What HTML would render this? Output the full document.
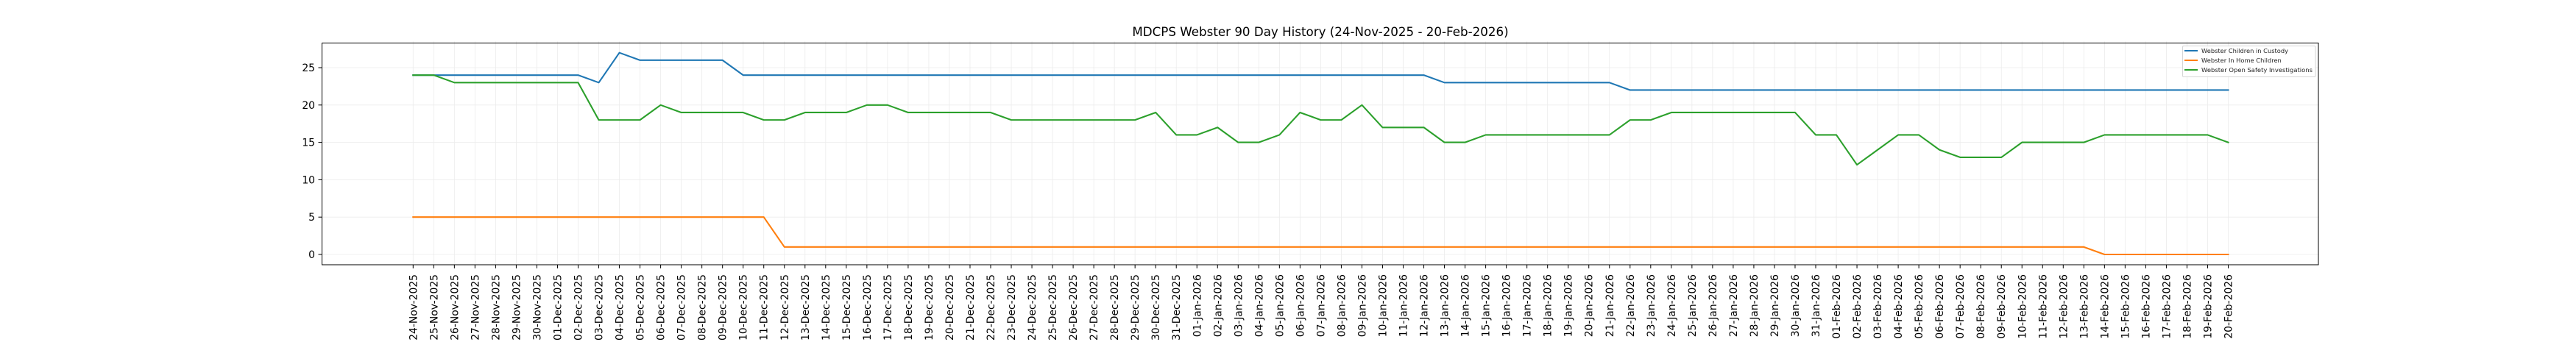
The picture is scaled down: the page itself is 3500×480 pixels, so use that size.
<!DOCTYPE html>
<html><head><meta charset="utf-8"><style>
html,body{margin:0;padding:0;background:#fff;}
svg{display:block;font-family:"DejaVu Sans","Liberation Sans",sans-serif;}
</style></head><body>
<svg width="3500" height="480" viewBox="0 0 3500 480" xmlns="http://www.w3.org/2000/svg">
<rect width="3500" height="480" fill="#fff"/>
<text x="1794" y="49" font-size="16.7" text-anchor="middle" fill="#000">MDCPS Webster 90 Day History (24-Nov-2025 - 20-Feb-2026)</text>
<!-- grid -->
<g transform="translate(561.3,346) scale(28.025,-10.16)" stroke="#ececec" stroke-width="0.8" fill="none">
<path vector-effect="non-scaling-stroke" d="M-4.4,0H92.4M-4.4,5H92.4M-4.4,10H92.4M-4.4,15H92.4M-4.4,20H92.4M-4.4,25H92.4"/>
<path vector-effect="non-scaling-stroke" d="M0,-1.38V28.5M1,-1.38V28.5M2,-1.38V28.5M3,-1.38V28.5M4,-1.38V28.5M5,-1.38V28.5M6,-1.38V28.5M7,-1.38V28.5M8,-1.38V28.5M9,-1.38V28.5M10,-1.38V28.5M11,-1.38V28.5M12,-1.38V28.5M13,-1.38V28.5M14,-1.38V28.5M15,-1.38V28.5M16,-1.38V28.5M17,-1.38V28.5M18,-1.38V28.5M19,-1.38V28.5M20,-1.38V28.5M21,-1.38V28.5M22,-1.38V28.5M23,-1.38V28.5M24,-1.38V28.5M25,-1.38V28.5M26,-1.38V28.5M27,-1.38V28.5M28,-1.38V28.5M29,-1.38V28.5M30,-1.38V28.5M31,-1.38V28.5M32,-1.38V28.5M33,-1.38V28.5M34,-1.38V28.5M35,-1.38V28.5M36,-1.38V28.5M37,-1.38V28.5M38,-1.38V28.5M39,-1.38V28.5M40,-1.38V28.5M41,-1.38V28.5M42,-1.38V28.5M43,-1.38V28.5M44,-1.38V28.5M45,-1.38V28.5M46,-1.38V28.5M47,-1.38V28.5M48,-1.38V28.5M49,-1.38V28.5M50,-1.38V28.5M51,-1.38V28.5M52,-1.38V28.5M53,-1.38V28.5M54,-1.38V28.5M55,-1.38V28.5M56,-1.38V28.5M57,-1.38V28.5M58,-1.38V28.5M59,-1.38V28.5M60,-1.38V28.5M61,-1.38V28.5M62,-1.38V28.5M63,-1.38V28.5M64,-1.38V28.5M65,-1.38V28.5M66,-1.38V28.5M67,-1.38V28.5M68,-1.38V28.5M69,-1.38V28.5M70,-1.38V28.5M71,-1.38V28.5M72,-1.38V28.5M73,-1.38V28.5M74,-1.38V28.5M75,-1.38V28.5M76,-1.38V28.5M77,-1.38V28.5M78,-1.38V28.5M79,-1.38V28.5M80,-1.38V28.5M81,-1.38V28.5M82,-1.38V28.5M83,-1.38V28.5M84,-1.38V28.5M85,-1.38V28.5M86,-1.38V28.5M87,-1.38V28.5M88,-1.38V28.5"/>
</g>
<!-- ticks -->
<g transform="translate(561.3,346) scale(28.025,-10.16)" stroke="#000" stroke-width="1" fill="none">
<path vector-effect="non-scaling-stroke" d="M0,-1.38v-0.48M1,-1.38v-0.48M2,-1.38v-0.48M3,-1.38v-0.48M4,-1.38v-0.48M5,-1.38v-0.48M6,-1.38v-0.48M7,-1.38v-0.48M8,-1.38v-0.48M9,-1.38v-0.48M10,-1.38v-0.48M11,-1.38v-0.48M12,-1.38v-0.48M13,-1.38v-0.48M14,-1.38v-0.48M15,-1.38v-0.48M16,-1.38v-0.48M17,-1.38v-0.48M18,-1.38v-0.48M19,-1.38v-0.48M20,-1.38v-0.48M21,-1.38v-0.48M22,-1.38v-0.48M23,-1.38v-0.48M24,-1.38v-0.48M25,-1.38v-0.48M26,-1.38v-0.48M27,-1.38v-0.48M28,-1.38v-0.48M29,-1.38v-0.48M30,-1.38v-0.48M31,-1.38v-0.48M32,-1.38v-0.48M33,-1.38v-0.48M34,-1.38v-0.48M35,-1.38v-0.48M36,-1.38v-0.48M37,-1.38v-0.48M38,-1.38v-0.48M39,-1.38v-0.48M40,-1.38v-0.48M41,-1.38v-0.48M42,-1.38v-0.48M43,-1.38v-0.48M44,-1.38v-0.48M45,-1.38v-0.48M46,-1.38v-0.48M47,-1.38v-0.48M48,-1.38v-0.48M49,-1.38v-0.48M50,-1.38v-0.48M51,-1.38v-0.48M52,-1.38v-0.48M53,-1.38v-0.48M54,-1.38v-0.48M55,-1.38v-0.48M56,-1.38v-0.48M57,-1.38v-0.48M58,-1.38v-0.48M59,-1.38v-0.48M60,-1.38v-0.48M61,-1.38v-0.48M62,-1.38v-0.48M63,-1.38v-0.48M64,-1.38v-0.48M65,-1.38v-0.48M66,-1.38v-0.48M67,-1.38v-0.48M68,-1.38v-0.48M69,-1.38v-0.48M70,-1.38v-0.48M71,-1.38v-0.48M72,-1.38v-0.48M73,-1.38v-0.48M74,-1.38v-0.48M75,-1.38v-0.48M76,-1.38v-0.48M77,-1.38v-0.48M78,-1.38v-0.48M79,-1.38v-0.48M80,-1.38v-0.48M81,-1.38v-0.48M82,-1.38v-0.48M83,-1.38v-0.48M84,-1.38v-0.48M85,-1.38v-0.48M86,-1.38v-0.48M87,-1.38v-0.48M88,-1.38v-0.48"/>
</g>
<g stroke="#000" stroke-width="1">
<line x1="432.5" y1="346" x2="437.5" y2="346"/>
<line x1="432.5" y1="295.2" x2="437.5" y2="295.2"/>
<line x1="432.5" y1="244.4" x2="437.5" y2="244.4"/>
<line x1="432.5" y1="193.6" x2="437.5" y2="193.6"/>
<line x1="432.5" y1="142.8" x2="437.5" y2="142.8"/>
<line x1="432.5" y1="92" x2="437.5" y2="92"/>
</g>
<g font-size="13.9" text-anchor="end" fill="#000">
<text x="428" y="351">0</text>
<text x="428" y="300.2">5</text>
<text x="428" y="249.4">10</text>
<text x="428" y="198.6">15</text>
<text x="428" y="147.8">20</text>
<text x="428" y="97">25</text>
</g>
<!-- series -->
<g transform="translate(561.3,346) scale(28.025,-10.16)" fill="none" stroke-width="2.1" stroke-linejoin="round" stroke-linecap="square">
<polyline vector-effect="non-scaling-stroke" stroke="#1f77b4" points="0,24 8,24 9,23 10,27 11,26 15,26 16,24 49,24 50,23 58,23 59,22 88,22"/>
<polyline vector-effect="non-scaling-stroke" stroke="#ff7f0e" points="0,5 17,5 18,1 81,1 82,0 88,0"/>
<polyline vector-effect="non-scaling-stroke" stroke="#2ca02c" points="0,24 1,24 2,23 8,23 9,18 11,18 12,20 13,19 16,19 17,18 18,18 19,19 21,19 22,20 23,20 24,19 28,19 29,18 35,18 36,19 37,16 38,16 39,17 40,15 41,15 42,16 43,19 44,18 45,18 46,20 47,17 49,17 50,15 51,15 52,16 58,16 59,18 60,18 61,19 67,19 68,16 69,16 70,12 71,14 72,16 73,16 74,14 75,13 77,13 78,15 81,15 82,16 87,16 88,15"/>
</g>
<!-- axes frame -->
<rect x="437.5" y="58.5" width="2712.5" height="301.5" fill="none" stroke="#000" stroke-width="1"/>
<!-- legend -->
<rect x="2965.5" y="62.5" width="180.5" height="42" fill="#fff" fill-opacity="0.8" stroke="#d6d6d6" stroke-width="1" rx="1.5"/>
<g stroke-width="2.1">
<line x1="2968" y1="69" x2="2986" y2="69" stroke="#1f77b4"/>
<line x1="2968" y1="82" x2="2986" y2="82" stroke="#ff7f0e"/>
<line x1="2968" y1="95" x2="2986" y2="95" stroke="#2ca02c"/>
</g>
<g font-size="8.3" fill="#222">
<text x="2991" y="72">Webster Children in Custody</text>
<text x="2991" y="85">Webster In Home Children</text>
<text x="2991" y="98" textLength="151" lengthAdjust="spacingAndGlyphs">Webster Open Safety Investigations</text>
</g>
<!-- x labels -->
<g transform="translate(0,373)" font-size="13.9" fill="#000">
<g transform="rotate(-90)" text-anchor="end">
<text x="0" y="561.3" dy="0.36em">24-Nov-2025</text>
<text x="0" y="589.3" dy="0.36em">25-Nov-2025</text>
<text x="0" y="617.4" dy="0.36em">26-Nov-2025</text>
<text x="0" y="645.4" dy="0.36em">27-Nov-2025</text>
<text x="0" y="673.4" dy="0.36em">28-Nov-2025</text>
<text x="0" y="701.4" dy="0.36em">29-Nov-2025</text>
<text x="0" y="729.5" dy="0.36em">30-Nov-2025</text>
<text x="0" y="757.5" dy="0.36em">01-Dec-2025</text>
<text x="0" y="785.5" dy="0.36em">02-Dec-2025</text>
<text x="0" y="813.5" dy="0.36em">03-Dec-2025</text>
<text x="0" y="841.6" dy="0.36em">04-Dec-2025</text>
<text x="0" y="869.6" dy="0.36em">05-Dec-2025</text>
<text x="0" y="897.6" dy="0.36em">06-Dec-2025</text>
<text x="0" y="925.6" dy="0.36em">07-Dec-2025</text>
<text x="0" y="953.7" dy="0.36em">08-Dec-2025</text>
<text x="0" y="981.7" dy="0.36em">09-Dec-2025</text>
<text x="0" y="1009.7" dy="0.36em">10-Dec-2025</text>
<text x="0" y="1037.7" dy="0.36em">11-Dec-2025</text>
<text x="0" y="1065.8" dy="0.36em">12-Dec-2025</text>
<text x="0" y="1093.8" dy="0.36em">13-Dec-2025</text>
<text x="0" y="1121.8" dy="0.36em">14-Dec-2025</text>
<text x="0" y="1149.8" dy="0.36em">15-Dec-2025</text>
<text x="0" y="1177.9" dy="0.36em">16-Dec-2025</text>
<text x="0" y="1205.9" dy="0.36em">17-Dec-2025</text>
<text x="0" y="1233.9" dy="0.36em">18-Dec-2025</text>
<text x="0" y="1261.9" dy="0.36em">19-Dec-2025</text>
<text x="0" y="1290.0" dy="0.36em">20-Dec-2025</text>
<text x="0" y="1318.0" dy="0.36em">21-Dec-2025</text>
<text x="0" y="1346.0" dy="0.36em">22-Dec-2025</text>
<text x="0" y="1374.0" dy="0.36em">23-Dec-2025</text>
<text x="0" y="1402.1" dy="0.36em">24-Dec-2025</text>
<text x="0" y="1430.1" dy="0.36em">25-Dec-2025</text>
<text x="0" y="1458.1" dy="0.36em">26-Dec-2025</text>
<text x="0" y="1486.1" dy="0.36em">27-Dec-2025</text>
<text x="0" y="1514.2" dy="0.36em">28-Dec-2025</text>
<text x="0" y="1542.2" dy="0.36em">29-Dec-2025</text>
<text x="0" y="1570.2" dy="0.36em">30-Dec-2025</text>
<text x="0" y="1598.2" dy="0.36em">31-Dec-2025</text>
<text x="0" y="1626.3" dy="0.36em">01-Jan-2026</text>
<text x="0" y="1654.3" dy="0.36em">02-Jan-2026</text>
<text x="0" y="1682.3" dy="0.36em">03-Jan-2026</text>
<text x="0" y="1710.3" dy="0.36em">04-Jan-2026</text>
<text x="0" y="1738.4" dy="0.36em">05-Jan-2026</text>
<text x="0" y="1766.4" dy="0.36em">06-Jan-2026</text>
<text x="0" y="1794.4" dy="0.36em">07-Jan-2026</text>
<text x="0" y="1822.4" dy="0.36em">08-Jan-2026</text>
<text x="0" y="1850.5" dy="0.36em">09-Jan-2026</text>
<text x="0" y="1878.5" dy="0.36em">10-Jan-2026</text>
<text x="0" y="1906.5" dy="0.36em">11-Jan-2026</text>
<text x="0" y="1934.5" dy="0.36em">12-Jan-2026</text>
<text x="0" y="1962.6" dy="0.36em">13-Jan-2026</text>
<text x="0" y="1990.6" dy="0.36em">14-Jan-2026</text>
<text x="0" y="2018.6" dy="0.36em">15-Jan-2026</text>
<text x="0" y="2046.6" dy="0.36em">16-Jan-2026</text>
<text x="0" y="2074.7" dy="0.36em">17-Jan-2026</text>
<text x="0" y="2102.7" dy="0.36em">18-Jan-2026</text>
<text x="0" y="2130.7" dy="0.36em">19-Jan-2026</text>
<text x="0" y="2158.7" dy="0.36em">20-Jan-2026</text>
<text x="0" y="2186.8" dy="0.36em">21-Jan-2026</text>
<text x="0" y="2214.8" dy="0.36em">22-Jan-2026</text>
<text x="0" y="2242.8" dy="0.36em">23-Jan-2026</text>
<text x="0" y="2270.8" dy="0.36em">24-Jan-2026</text>
<text x="0" y="2298.9" dy="0.36em">25-Jan-2026</text>
<text x="0" y="2326.9" dy="0.36em">26-Jan-2026</text>
<text x="0" y="2354.9" dy="0.36em">27-Jan-2026</text>
<text x="0" y="2382.9" dy="0.36em">28-Jan-2026</text>
<text x="0" y="2411.0" dy="0.36em">29-Jan-2026</text>
<text x="0" y="2439.0" dy="0.36em">30-Jan-2026</text>
<text x="0" y="2467.0" dy="0.36em">31-Jan-2026</text>
<text x="0" y="2495.0" dy="0.36em">01-Feb-2026</text>
<text x="0" y="2523.1" dy="0.36em">02-Feb-2026</text>
<text x="0" y="2551.1" dy="0.36em">03-Feb-2026</text>
<text x="0" y="2579.1" dy="0.36em">04-Feb-2026</text>
<text x="0" y="2607.1" dy="0.36em">05-Feb-2026</text>
<text x="0" y="2635.2" dy="0.36em">06-Feb-2026</text>
<text x="0" y="2663.2" dy="0.36em">07-Feb-2026</text>
<text x="0" y="2691.2" dy="0.36em">08-Feb-2026</text>
<text x="0" y="2719.2" dy="0.36em">09-Feb-2026</text>
<text x="0" y="2747.3" dy="0.36em">10-Feb-2026</text>
<text x="0" y="2775.3" dy="0.36em">11-Feb-2026</text>
<text x="0" y="2803.3" dy="0.36em">12-Feb-2026</text>
<text x="0" y="2831.3" dy="0.36em">13-Feb-2026</text>
<text x="0" y="2859.4" dy="0.36em">14-Feb-2026</text>
<text x="0" y="2887.4" dy="0.36em">15-Feb-2026</text>
<text x="0" y="2915.4" dy="0.36em">16-Feb-2026</text>
<text x="0" y="2943.4" dy="0.36em">17-Feb-2026</text>
<text x="0" y="2971.5" dy="0.36em">18-Feb-2026</text>
<text x="0" y="2999.5" dy="0.36em">19-Feb-2026</text>
<text x="0" y="3027.5" dy="0.36em">20-Feb-2026</text>
</g>
</g>
</svg>
</body></html>
